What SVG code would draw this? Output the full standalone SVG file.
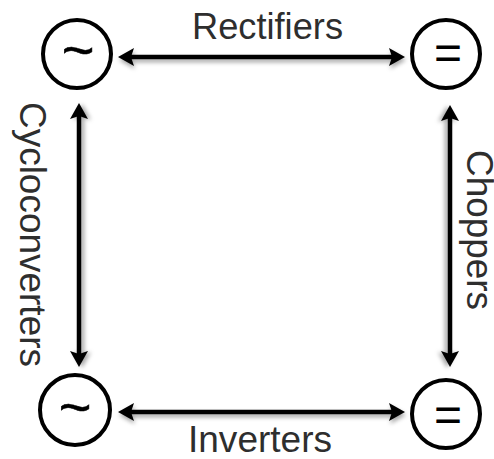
<svg xmlns="http://www.w3.org/2000/svg" width="494" height="459" viewBox="0 0 494 459">
  <style>
    .node circle { fill: #ffffff; stroke: #000000; stroke-width: 4; }
    .sym { font-family: "Liberation Sans", Arial, sans-serif; font-size: 48px; fill: #000000; text-anchor: middle; }
    .tilde { font-size: 56px; stroke: #000000; stroke-width: 0.5; }
    .label { font-family: "Liberation Sans", Arial, sans-serif; font-size: 36px; fill: #2e2e2e; }
    .conn line { stroke: #000000; stroke-width: 4.5; marker-start: url(#arrowhead); marker-end: url(#arrowhead); }
  </style>
  <defs>
    <marker id="arrowhead" viewBox="0 0 16 18" markerWidth="16" markerHeight="18" markerUnits="userSpaceOnUse" refX="5" refY="9" orient="auto-start-reverse">
      <path d="M0,0 L16,9 L0,18 L3,9 z" fill="#000000"/>
    </marker>
    <!-- soft drop shadows; user-space regions because the lines have zero-width boxes -->
    <filter id="shadowDown" filterUnits="userSpaceOnUse" x="0" y="0" width="494" height="459">
      <feDropShadow dx="1" dy="3" stdDeviation="2" flood-color="#000000" flood-opacity="0.35"/>
    </filter>
    <filter id="shadowLeft" filterUnits="userSpaceOnUse" x="0" y="0" width="494" height="459">
      <feDropShadow dx="-3" dy="1" stdDeviation="2" flood-color="#000000" flood-opacity="0.35"/>
    </filter>
    <filter id="shadowRight" filterUnits="userSpaceOnUse" x="0" y="0" width="494" height="459">
      <feDropShadow dx="3" dy="1" stdDeviation="2" flood-color="#000000" flood-opacity="0.35"/>
    </filter>
  </defs>

  <rect width="494" height="459" fill="#ffffff"/>

  <!-- connectors: double-headed arrows between the four converter states -->
  <g id="connectors" class="conn">
    <line id="rectifiers-arrow" x1="129" y1="57" x2="394" y2="57" filter="url(#shadowDown)"/>
    <line id="inverters-arrow" x1="129" y1="412" x2="394" y2="412" filter="url(#shadowDown)"/>
    <line id="cycloconverters-arrow" x1="79" y1="114" x2="79" y2="356" filter="url(#shadowRight)"/>
    <line id="choppers-arrow" x1="450" y1="116" x2="450" y2="356" filter="url(#shadowLeft)"/>
  </g>

  <!-- AC and DC nodes -->
  <g id="ac-top" class="node">
    <circle cx="77" cy="54" r="34"/>
    <text class="sym tilde" x="78" y="69">~</text>
  </g>
  <g id="dc-top" class="node">
    <circle cx="446" cy="54" r="34"/>
    <text class="sym" x="448" y="69">=</text>
  </g>
  <g id="ac-bottom" class="node">
    <circle cx="75" cy="410" r="35"/>
    <text class="sym tilde" x="75" y="426">~</text>
  </g>
  <g id="dc-bottom" class="node">
    <circle cx="446" cy="414" r="34"/>
    <text class="sym" x="448" y="431">=</text>
  </g>

  <!-- converter labels -->
  <g id="labels">
    <text class="label" x="192" y="39" textLength="151" lengthAdjust="spacingAndGlyphs">Rectifiers</text>
    <text class="label" x="188" y="452" font-size="34" textLength="144" lengthAdjust="spacingAndGlyphs">Inverters</text>
    <text class="label" transform="translate(20,102) rotate(90)" textLength="265" lengthAdjust="spacingAndGlyphs">Cycloconverters</text>
    <text class="label" transform="translate(467,150) rotate(90)" font-size="30" textLength="160" lengthAdjust="spacingAndGlyphs">Choppers</text>
  </g>
</svg>
